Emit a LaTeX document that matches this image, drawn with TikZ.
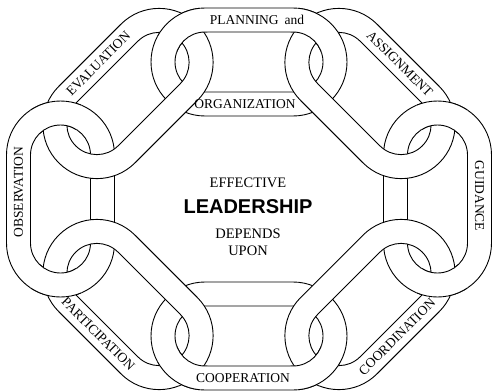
\documentclass[tikz,border=0pt]{standalone}
\usepackage{fontspec}
\setmainfont{Liberation Serif}
\newfontfamily\leadfont{Liberation Sans}
\usetikzlibrary{positioning}

\begin{document}
\begin{tikzpicture}[
        x=1pt, y=1pt,
        line join=round,
        % Define Styles
        linkring/.style={draw=black, line width=0.9pt, fill=white, even odd rule},
        pics/chainlink/.style={code={
            \path[linkring]
                (-44,-54) -- (44,-54) arc[start angle=-90, end angle=90, radius=54pt]
                -- (-44,54) arc[start angle=90, end angle=270, radius=54pt] -- cycle
                (-44,-30) -- (44,-30) arc[start angle=-90, end angle=90, radius=30pt]
                -- (-44,30) arc[start angle=90, end angle=270, radius=30pt] -- cycle;
        }},
        linklabel/.style={font=\fontsize{13.5}{14}\selectfont, inner sep=0pt},
        centertext/.style={font=\fontsize{14.5}{15}\selectfont, inner sep=0pt},
        leadtext/.style={font=\leadfont\bfseries\fontsize{20}{22}\selectfont, inner sep=0pt}
    ]
    \useasboundingbox (-249,-192) rectangle (243,199);

    % --- STRAIGHT LINKS (drawn first, they pass under) ---
    \pic at (0,137) {chainlink};               % planning / organization
    \pic[rotate=90] at (188.5,0) {chainlink};  % guidance
    \pic at (0,-137) {chainlink};              % cooperation
    \pic[rotate=90] at (-188.5,0) {chainlink}; % observation

    % --- SLANTED LINKS ---
    \pic[rotate=-45] at (121,105.5) {chainlink};
    \pic[rotate=45] at (121,-105.5) {chainlink};
    \pic[rotate=-45] at (-121,-105.5) {chainlink};
    \pic[rotate=45] at (-121,105.5) {chainlink};

    % --- OVER/UNDER: straight link back on top at the outer crossing ---
    \begin{scope} \clip (-67,172) circle[radius=26pt]; \pic at (0,137) {chainlink}; \end{scope}
    \begin{scope} \clip (67,172) circle[radius=26pt]; \pic at (0,137) {chainlink}; \end{scope}
    \begin{scope} \clip (192.5,85.8) circle[radius=26pt]; \pic[rotate=90] at (188.5,0) {chainlink}; \end{scope}
    \begin{scope} \clip (192.5,-85.8) circle[radius=26pt]; \pic[rotate=90] at (188.5,0) {chainlink}; \end{scope}
    \begin{scope} \clip (67,-172) circle[radius=26pt]; \pic at (0,-137) {chainlink}; \end{scope}
    \begin{scope} \clip (-67,-172) circle[radius=26pt]; \pic at (0,-137) {chainlink}; \end{scope}
    \begin{scope} \clip (-192.5,-85.8) circle[radius=26pt]; \pic[rotate=90] at (-188.5,0) {chainlink}; \end{scope}
    \begin{scope} \clip (-192.5,85.8) circle[radius=26pt]; \pic[rotate=90] at (-188.5,0) {chainlink}; \end{scope}

    % --- LABELS ON THE LINKS ---
    \node[linklabel] (planning) at (8,179) {PLANNING\hspace{6pt}and};
    \node[linklabel] (organization) at (-4,95) {ORGANIZATION};
    \node[linklabel, rotate=-45] (assignment) at (150.7,135.2) {ASSIGNMENT};
    \node[linklabel, rotate=-90] (guidance) at (230.5,3) {GUIDANCE};
    \node[linklabel, rotate=45] (coordination) at (148,-138) {COORDINATION};
    \node[linklabel] (cooperation) at (-6,-179) {COOPERATION};
    \node[linklabel, rotate=-45] (participation) at (-150.7,-135.2) {PARTICIPATION};
    \node[linklabel, rotate=90] (observation) at (-230.5,7) {OBSERVATION};
    \node[linklabel, rotate=45] (evaluation) at (-150.7,135.2) {EVALUATION};

    % --- CENTRE TEXT ---
    \node[leadtext] (leadership) at (-1,-7.5) {LEADERSHIP};
    \node[centertext, above=11pt of leadership] (effective) {EFFECTIVE};
    \node[centertext, below=15pt of leadership] (depends) {DEPENDS};
    \node[centertext, below=7pt of depends] (upon) {UPON};

\end{tikzpicture}
\end{document}
